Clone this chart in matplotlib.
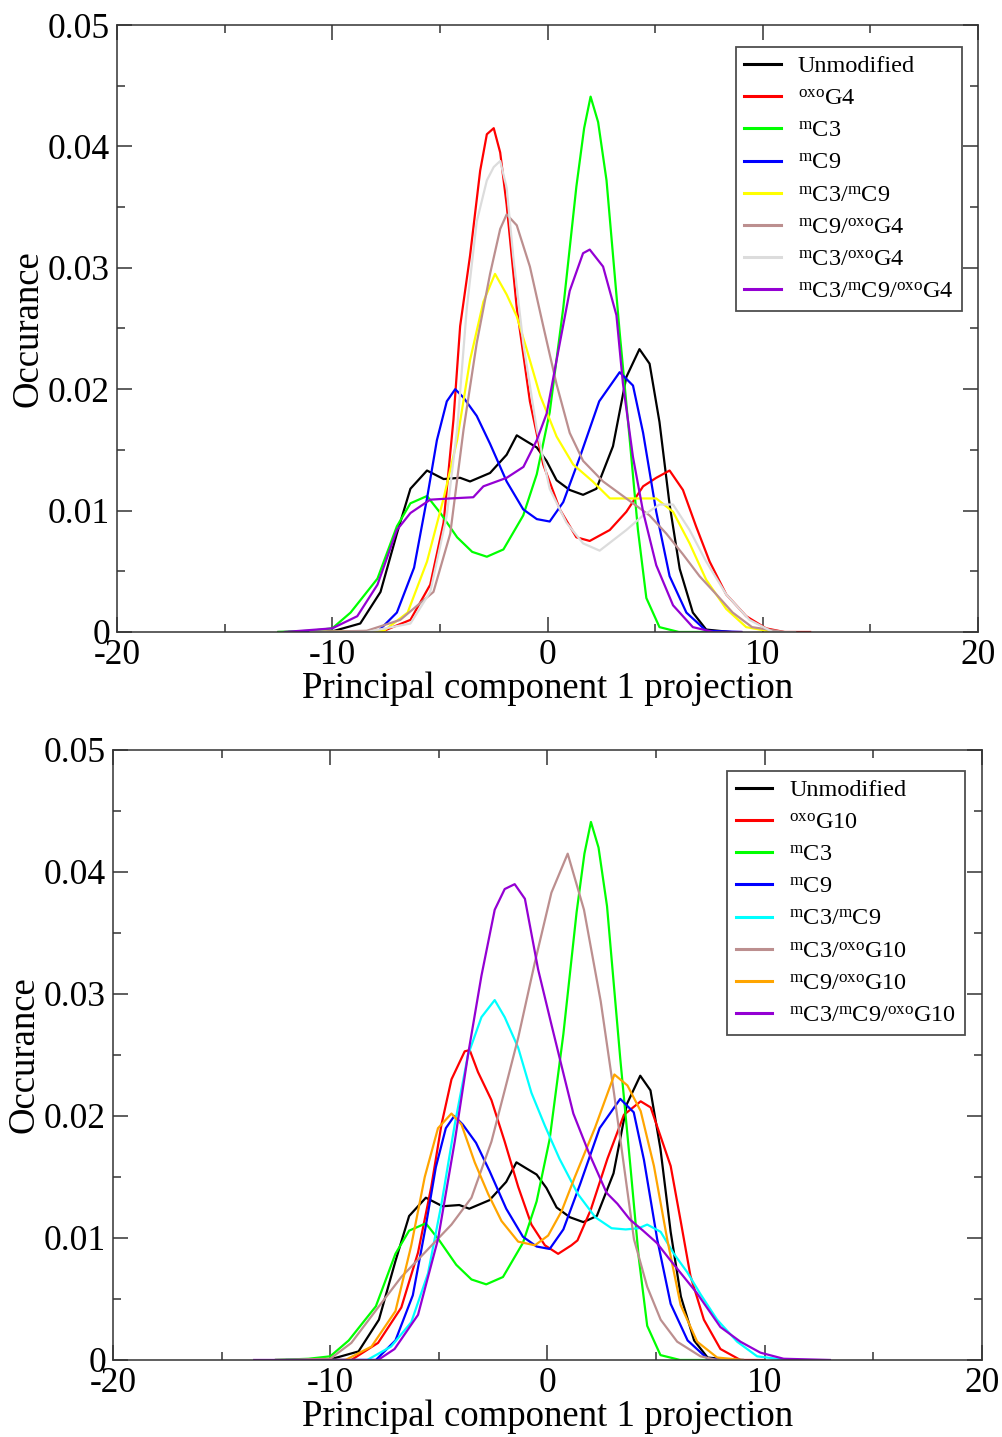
"""
PCA projection histograms (PC1) for modified / unmodified duplexes
"""
import matplotlib
matplotlib.use("Agg")
import matplotlib.pyplot as plt
from matplotlib.ticker import MultipleLocator, FuncFormatter

# ---- shared series (same in both panels) ----
unmod_x = [-12.5, -10.5, -9.9, -8.7, -7.76, -7.0, -6.37, -5.6, -4.83, -4.06, -3.6, -2.67, -1.9, -1.43, -0.97,
           -0.5, -0.05, 0.42, 1.03, 1.65, 2.27, 3.04, 3.66, 4.27, 4.74, 5.2, 5.67, 6.14, 6.75, 7.37, 8.5]
unmod_y = [0, 0, 0.0001, 0.0007, 0.0033, 0.0081, 0.0118, 0.0133, 0.0126, 0.0127, 0.0124, 0.0131, 0.0146, 0.0162,
           0.0157, 0.0152, 0.0141, 0.0125, 0.0117, 0.0113, 0.0118, 0.0153, 0.021, 0.0233, 0.0221, 0.0173, 0.0105,
           0.0052, 0.0016, 0.0002, 0]

mc3_x = [-12.5, -11, -10, -9.15, -7.9, -7.0, -6.37, -5.6, -4.98, -4.2, -3.5, -2.82, -2.05, -1.13, -0.5, 0.1, 0.73,
         1.34, 1.7, 2.0, 2.35, 2.74, 3.35, 3.82, 4.2, 4.59, 5.2, 6.1, 8]
mc3_y = [0, 0.0001, 0.0003, 0.0016, 0.0044, 0.0087, 0.0106, 0.0112, 0.0098, 0.0078, 0.0066, 0.0062, 0.0068, 0.0096,
         0.013, 0.0181, 0.0267, 0.0367, 0.0415, 0.0441, 0.042, 0.0372, 0.0247, 0.0158, 0.0084, 0.0028, 0.0004, 0, 0]

mc9_x = [-12, -7.9, -7.0, -6.2, -5.6, -5.14, -4.68, -4.29, -3.9, -3.29, -2.67, -1.9, -1.13, -0.5, 0.1, 0.73, 1.5,
         2.4, 3.35, 3.97, 4.44, 5.05, 5.67, 6.45, 7.37, 9]
mc9_y = [0, 0, 0.0016, 0.0053, 0.011, 0.0158, 0.019, 0.02, 0.0193, 0.0178, 0.0155, 0.0124, 0.0101, 0.0093, 0.0091,
         0.0107, 0.0144, 0.019, 0.0214, 0.0203, 0.0164, 0.0099, 0.0046, 0.0016, 0.0001, 0]

# ---- top panel (G4) ----
oxog4_x = [-11, -9.9, -7.6, -6.37, -5.45, -4.83, -4.37, -4.06, -3.6, -3.13, -2.82, -2.5, -2.2, -1.9, -1.43, -0.82,
           -0.2, 0.57, 1.34, 1.96, 2.89, 3.66, 4.44, 5.05, 5.67, 6.29, 6.9, 7.53, 8.3, 9.23, 10.15, 11, 12.2]
oxog4_y = [0, 0, 0.0001, 0.001, 0.0039, 0.009, 0.0175, 0.0252, 0.031, 0.038, 0.041, 0.0415, 0.0395, 0.0352, 0.0267,
           0.019, 0.0138, 0.0101, 0.0078, 0.0075, 0.0084, 0.0099, 0.012, 0.0127, 0.0133, 0.0117, 0.0087, 0.0058,
           0.0031, 0.0013, 0.0003, 0, 0]

mc3mc9_x = [-11, -7.6, -6.5, -5.6, -4.83, -4.2, -3.6, -2.98, -2.44, -1.9, -1.43, -0.97, -0.35, 0.42, 1.19, 2.1, 2.9,
            3.97, 5.05, 5.83, 6.6, 7.37, 8.3, 9.23, 10.5]
mc3mc9_y = [0, 0.0001, 0.0016, 0.0058, 0.011, 0.0158, 0.0224, 0.0272, 0.0295, 0.0278, 0.026, 0.0233, 0.0195, 0.0161,
            0.0138, 0.0124, 0.011, 0.011, 0.011, 0.0099, 0.0073, 0.0043, 0.0019, 0.0004, 0]

mc9oxog4_x = [-11, -8.4, -6.84, -5.3, -4.52, -3.9, -3.29, -2.67, -2.2, -1.9, -1.43, -0.82, -0.2, 0.42, 1.03, 1.65,
              2.58, 3.66, 4.74, 5.52, 6.29, 7.06, 7.84, 8.6, 9.5, 11]
mc9oxog4_y = [0, 0.0001, 0.001, 0.0033, 0.0081, 0.0167, 0.0238, 0.0295, 0.0332, 0.0344, 0.0335, 0.0301, 0.0252,
              0.0204, 0.0164, 0.0141, 0.0124, 0.011, 0.0096, 0.0081, 0.0064, 0.0046, 0.0031, 0.0016, 0.0004, 0]

mc3oxog4_x = [-11, -8.4, -6.37, -5.45, -4.68, -4.2, -3.75, -3.29, -2.82, -2.5, -2.2, -1.9, -1.59, -1.13, -0.5, 0.1,
              0.88, 1.65, 2.42, 3.66, 4.44, 5.2, 5.83, 6.6, 7.37, 8.3, 9.38, 10.46, 11.5]
mc3oxog4_y = [0, 0, 0.0007, 0.0033, 0.0096, 0.0167, 0.0267, 0.0338, 0.0372, 0.0383, 0.0388, 0.0366, 0.0309, 0.0238,
              0.0167, 0.0118, 0.009, 0.0073, 0.0067, 0.0084, 0.0096, 0.0105, 0.0105, 0.0084, 0.0058, 0.0031, 0.001,
              0, 0]

triple4_x = [-12.2, -10, -8.84, -7.9, -7.0, -6.37, -5.45, -4.52, -3.45, -2.98, -1.9, -1.12, -0.5, -0.04, 0.42, 1.03,
             1.65, 1.96, 2.58, 3.2, 3.5, 3.97, 4.44, 5.05, 5.83, 6.75, 7.7, 9]
triple4_y = [0, 0.0003, 0.0013, 0.0039, 0.0084, 0.0098, 0.0109, 0.011, 0.0111, 0.012, 0.0127, 0.0136, 0.0158, 0.018,
             0.0224, 0.0281, 0.0312, 0.0315, 0.0301, 0.0261, 0.0205, 0.0144, 0.0099, 0.0055, 0.0022, 0.0004, 0, 0]

# ---- bottom panel (G10) ----
oxog10_x = [-11, -9.03, -7.8, -6.73, -5.96, -5.35, -4.88, -4.42, -3.81, -3.58, -3.2, -2.58, -1.97, -1.35, -0.74,
            -0.12, 0.49, 1.1, 1.38, 1.99, 2.76, 3.52, 4.29, 4.75, 5.21, 5.67, 6.13, 6.58, 7.2, 7.96, 8.88, 10]
oxog10_y = [0, 0, 0.0014, 0.0043, 0.0088, 0.0142, 0.0193, 0.023, 0.0253, 0.0254, 0.0236, 0.0213, 0.0179, 0.0142,
            0.0111, 0.0094, 0.0087, 0.0094, 0.0098, 0.0123, 0.0165, 0.0201, 0.0212, 0.0207, 0.0183, 0.0159, 0.0114,
            0.0069, 0.0033, 0.0009, 0, 0]

mc3mc9b_x = [-11, -8.3, -7.2, -6.27, -5.5, -4.88, -4.27, -3.66, -3.04, -2.43, -1.97, -1.35, -0.74, -0.12, 0.55, 1.4,
             2.2, 2.95, 3.6, 4.2, 4.59, 5.21, 5.82, 6.43, 7.04, 7.81, 8.73, 9.65, 11]
mc3mc9b_y = [0, 0, 0.0011, 0.0031, 0.0071, 0.0128, 0.0193, 0.025, 0.0281, 0.0295, 0.0281, 0.0256, 0.0219, 0.0192,
             0.0165, 0.0136, 0.0117, 0.0108, 0.0107, 0.0108, 0.0111, 0.0105, 0.0087, 0.0072, 0.0054, 0.0033, 0.0015,
             0.0003, 0]

mc3oxog10_x = [-12.5, -10, -9.03, -7.8, -6.73, -5.65, -4.42, -3.5, -2.58, -1.97, -1.35, -0.58, 0.18, 0.93, 1.68,
               2.45, 3.06, 3.52, 3.98, 4.59, 5.21, 5.97, 7.04, 7.8, 9]
mc3oxog10_y = [0, 0.0001, 0.0014, 0.0043, 0.0068, 0.0088, 0.0111, 0.0133, 0.0179, 0.0221, 0.0264, 0.0326, 0.0383,
               0.0415, 0.0369, 0.0294, 0.0219, 0.0159, 0.0099, 0.006, 0.0033, 0.0015, 0.0003, 0, 0]

mc9oxog10_x = [-11, -9.3, -8.1, -7.0, -6.27, -5.65, -5.04, -4.42, -3.96, -3.35, -2.73, -2.12, -1.35, -0.58, 0.03,
               0.65, 1.26, 2.18, 3.08, 3.68, 4.29, 4.9, 5.51, 6.13, 6.89, 7.81, 9]
mc9oxog10_y = [0, 0, 0.0011, 0.004, 0.0094, 0.015, 0.019, 0.0202, 0.0193, 0.0162, 0.0136, 0.0114, 0.0097, 0.0094,
               0.0102, 0.0122, 0.015, 0.019, 0.0234, 0.0225, 0.0204, 0.0159, 0.0099, 0.0045, 0.0015, 0.0002, 0]

triple10_x = [-13.5, -7.8, -7.04, -5.96, -5.04, -4.27, -3.66, -3.04, -2.43, -1.97, -1.51, -1.04, -0.43, 0.18, 0.8,
              1.19, 1.9, 2.72, 3.22, 3.8, 4.4, 5.03, 5.6, 6.28, 6.87, 7.96, 8.88, 9.8, 10.87, 13]
triple10_y = [0, 0, 0.0009, 0.0037, 0.0099, 0.0179, 0.025, 0.0315, 0.0369, 0.0386, 0.039, 0.0378, 0.032, 0.0275,
              0.023, 0.0202, 0.017, 0.0137, 0.0128, 0.0115, 0.0106, 0.0096, 0.0083, 0.0068, 0.0055, 0.0027, 0.0015,
              0.0006, 0.0001, 0]

labels_top = ["Unmodified", r"$^{\rm oxo}$G4", r"$^{\rm m}$C3", r"$^{\rm m}$C9", r"$^{\rm m}$C3/$^{\rm m}$C9",
              r"$^{\rm m}$C9/$^{\rm oxo}$G4", r"$^{\rm m}$C3/$^{\rm oxo}$G4",
              r"$^{\rm m}$C3/$^{\rm m}$C9/$^{\rm oxo}$G4"]
labels_bottom = ["Unmodified", r"$^{\rm oxo}$G10", r"$^{\rm m}$C3", r"$^{\rm m}$C9", r"$^{\rm m}$C3/$^{\rm m}$C9",
                 r"$^{\rm m}$C3/$^{\rm oxo}$G10", r"$^{\rm m}$C9/$^{\rm oxo}$G10",
                 r"$^{\rm m}$C3/$^{\rm m}$C9/$^{\rm oxo}$G10"]

# grace default palette
colors_top = ["#000000", "#ff0000", "#00ff00", "#0000ff", "#ffff00", "#bc8f8f", "#dcdcdc", "#9400d3"]
colors_bottom = ["#000000", "#ff0000", "#00ff00", "#0000ff", "#00ffff", "#bc8f8f", "#ffa500", "#9400d3"]


def style_axes(ax):
    ax.set_xlim(-20, 20)
    ax.set_ylim(0, 0.05)
    ax.xaxis.set_major_locator(MultipleLocator(10))
    ax.xaxis.set_minor_locator(MultipleLocator(5))
    ax.yaxis.set_major_locator(MultipleLocator(0.01))
    ax.yaxis.set_minor_locator(MultipleLocator(0.005))
    ax.yaxis.set_major_formatter(FuncFormatter(lambda v, p: "0" if abs(v) < 1e-9 else "%.2f" % v))
    ax.tick_params(which="both", direction="in", top=True, right=True, colors="#333333", labelcolor="black")
    ax.tick_params(which="major", length=11, width=1.1, labelsize=25.5, pad=5)
    ax.tick_params(which="minor", length=5.5, width=1.1)
    for s in ax.spines.values():
        s.set_linewidth(1.1)
        s.set_color("#333333")
    ax.set_xlabel("Principal component 1 projection", fontsize=26.5, labelpad=0)
    ax.set_ylabel("Occurance", fontsize=26.5, labelpad=2)


def plot_panel(ax, series, labels, colors, anchor):
    for (xs, ys), lab, col in zip(series, labels, colors):
        ax.plot(xs, ys, color=col, lw=1.6, label=lab)
    style_axes(ax)
    leg = ax.legend(loc="upper right", bbox_to_anchor=anchor, fontsize=17.5, frameon=True, fancybox=False,
                    handlelength=1.5, handletextpad=0.7, labelspacing=0.42, borderpad=0.35, borderaxespad=0)
    leg.get_frame().set_edgecolor("#222222")
    leg.get_frame().set_linewidth(1.3)
    for line in leg.get_lines():
        line.set_linewidth(2.2)


def main():
    plt.rcParams["font.family"] = "serif"
    plt.rcParams["font.serif"] = ["Liberation Serif", "DejaVu Serif"]
    plt.rcParams["mathtext.fontset"] = "custom"
    plt.rcParams["mathtext.rm"] = "Liberation Serif"
    plt.rcParams["mathtext.it"] = "Liberation Serif:italic"
    plt.rcParams["axes.unicode_minus"] = False

    fig = plt.figure(figsize=(10.02, 14.37), dpi=100)
    ax1 = fig.add_axes([0.1168, 0.5602, 0.8593, 0.4224])
    ax2 = fig.add_axes([0.1128, 0.0536, 0.8672, 0.4245])

    top = [(unmod_x, unmod_y), (oxog4_x, oxog4_y), (mc3_x, mc3_y), (mc9_x, mc9_y), (mc3mc9_x, mc3mc9_y),
           (mc9oxog4_x, mc9oxog4_y), (mc3oxog4_x, mc3oxog4_y), (triple4_x, triple4_y)]
    bottom = [(unmod_x, unmod_y), (oxog10_x, oxog10_y), (mc3_x, mc3_y), (mc9_x, mc9_y), (mc3mc9b_x, mc3mc9b_y),
              (mc3oxog10_x, mc3oxog10_y), (mc9oxog10_x, mc9oxog10_y), (triple10_x, triple10_y)]

    plot_panel(ax1, top, labels_top, colors_top, (0.981, 0.964))
    plot_panel(ax2, bottom, labels_bottom, colors_bottom, (0.980, 0.966))

    fig.savefig("out.png", dpi=100)


if __name__ == "__main__":
    main()
